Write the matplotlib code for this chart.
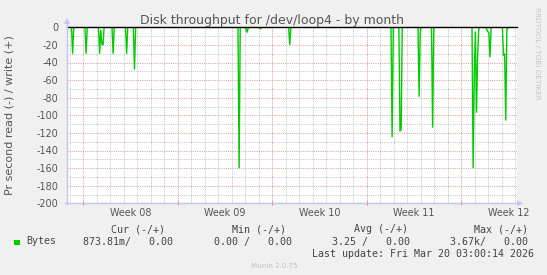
import matplotlib
matplotlib.use("Agg")
import matplotlib.pyplot as plt
import matplotlib.dates as mdates
import matplotlib.transforms as mtransforms
from matplotlib.patches import Polygon, Rectangle
from matplotlib.lines import Line2D
import numpy as np
import pandas as pd

plt.rcParams['axes.unicode_minus'] = False
plt.rcParams['font.family'] = ['DejaVu Sans']

W, H = 547, 275

# ---------------- data ----------------
title = "Disk throughput for /dev/loop4 - by month"
ylabel = "Pr second read (-) / write (+)"
end_time = pd.Timestamp("2026-03-20 03:00")
span_hours = 800
step_hours = 2

# read (-) series: non-zero 2-hour averages (all other samples are 0)
read_times = [
    "2026-02-15 05:00", "2026-02-16 05:00", "2026-02-17 05:00", "2026-02-17 07:00",
    "2026-02-17 09:00", "2026-02-17 11:00", "2026-02-18 05:00", "2026-02-19 05:00",
    "2026-02-19 19:00", "2026-02-27 13:00", "2026-02-28 01:00", "2026-02-28 03:00",
    "2026-02-28 05:00", "2026-03-01 03:00", "2026-03-03 07:00", "2026-03-10 21:00",
    "2026-03-11 11:00", "2026-03-11 13:00", "2026-03-12 21:00", "2026-03-12 23:00",
    "2026-03-13 21:00", "2026-03-16 21:00", "2026-03-16 23:00", "2026-03-17 01:00",
    "2026-03-17 03:00", "2026-03-17 05:00", "2026-03-17 07:00", "2026-03-17 21:00",
    "2026-03-17 23:00", "2026-03-18 01:00", "2026-03-18 03:00", "2026-03-18 05:00",
    "2026-03-19 03:00", "2026-03-19 05:00", "2026-03-19 07:00", "2026-03-19 09:00",
    "2026-03-19 11:00",
]
read_values = [
    -30, -30, -30, -3,
    -19, -20, -30, -30,
    -48, -160, -1.5, -6,
    -1, -2, -20, -125,
    -118, -116, -79, -3,
    -114, -160, -55, -5,
    -97, -33, -2, -2,
    -5, -6, -34, -1,
    -32, -30, -106, -2,
    -1,
]
write_value = 0.0

yticks = [0, -20, -40, -60, -80, -100, -120, -140, -160, -180, -200]
yminor = [-10, -30, -50, -70, -90, -110, -130, -150, -170, -190]
week_starts = ["2026-02-16", "2026-02-23", "2026-03-02", "2026-03-09", "2026-03-16"]
week_labels = ["Week 08", "Week 09", "Week 10", "Week 11", "Week 12"]

legend_name = "Bytes"
legend_headers = ["Cur (-/+)", "Min (-/+)", "Avg (-/+)", "Max (-/+)"]
legend_values = ["873.81m/   0.00", "0.00 /   0.00", "3.25 /   0.00", "3.67k/   0.00"]
last_update = "Last update: Fri Mar 20 03:00:14 2026"
munin_version = "Munin 2.0.75"
watermark = "RRDTOOL / TOBI OETIKER"

# ---------------- series ----------------
start_time = end_time - pd.Timedelta(hours=span_hours)
times = pd.date_range(start_time, end_time, freq=f"{step_hours}h")
series = pd.Series(0.0, index=times)
for t, v in zip(read_times, read_values):
    series[pd.Timestamp(t)] = v

# ---------------- figure ----------------
fig = plt.figure(figsize=(W / 100, H / 100), dpi=100)
fig.patch.set_facecolor("#f0f0f0")
pxT = mtransforms.Affine2D().scale(1 / W, -1 / H).translate(0, 1) + fig.transFigure

L, R, T, B = 67, 517, 27.3, 203.3
ax = fig.add_axes([L / W, 1 - B / H, (R - L) / W, (B - T) / H])
ax.set_facecolor("white")
ax.set_xlim(mdates.date2num(start_time), mdates.date2num(end_time))
ax.set_ylim(-200, 0)
for s in ax.spines.values():
    s.set_visible(False)

txt_col = "#555555"
minor_col = "#c4c4c4"
major_col = "#e09c9c"
glw = 0.72
gls = (0, (1, 1.2))

# grid lines
days = pd.date_range(start_time.normalize() + pd.Timedelta(days=1), end_time, freq="D")
for d in days:
    if d.weekday() != 0:
        ax.axvline(mdates.date2num(d), color=minor_col, lw=glw, ls=gls, zorder=1)
for yv in yminor:
    ax.axhline(yv, color=minor_col, lw=glw, ls=gls, zorder=1)
for yv in yticks[1:-1]:
    ax.axhline(yv, color=major_col, lw=glw, ls=gls, zorder=1.5)
for ws in week_starts:
    ax.axvline(mdates.date2num(pd.Timestamp(ws)), color=major_col, lw=glw,
               ls=gls, zorder=1.5)

# data
ax.plot(series.index, series.values, color="#00cc00", lw=1.0, zorder=3,
        solid_joinstyle="miter")
ax.axhline(write_value, color="black", lw=1.0, zorder=4, clip_on=False)

# ticks
ax.set_yticks(yticks)
ax.set_yticklabels([str(v) for v in yticks])
ax.tick_params(axis="y", length=0, pad=6.2, labelsize=6.9, labelcolor=txt_col)
ax.set_xticks([mdates.date2num(pd.Timestamp(ws)) for ws in week_starts])
ax.set_xticklabels([])
ax.tick_params(axis="x", length=3, direction="inout", color="#e08080", width=0.8)

blend = mtransforms.blended_transform_factory(ax.transData, pxT)
for ws, lab in zip(week_starts, week_labels):
    xc = mdates.date2num(pd.Timestamp(ws) + pd.Timedelta(hours=84))
    fig.text(xc, 213.5, lab, transform=blend, ha="center", va="center",
             fontsize=6.9, color=txt_col)

# axis lines with arrows
axis_col = "#c4c4f2"
fig.add_artist(Line2D([L, L], [B + 1, 22], transform=pxT, color=axis_col, lw=1))
fig.add_artist(Line2D([L - 2, R + 1], [B, B], transform=pxT, color=axis_col, lw=1))
fig.add_artist(Polygon([[L - 3, 24], [L + 3, 24], [L, 18]], closed=True,
                       transform=pxT, color=axis_col, lw=0))
fig.add_artist(Polygon([[R, B - 3], [R, B + 3], [R + 6, B]], closed=True,
                       transform=pxT, color=axis_col, lw=0))

# texts
fig.text(272.5, 24, title, transform=pxT, ha="center", va="baseline",
         fontsize=9, color=txt_col)
fig.text(10, 115, ylabel, transform=pxT, ha="center", va="center",
         rotation=90, fontsize=8, color=txt_col)
fig.text(537.5, 53, watermark, transform=pxT, ha="center", va="center",
         rotation=270, fontsize=5.2, color="#c4c4c4")

mono = dict(family="DejaVu Sans Mono", fontsize=7.2, color="#444444")
header_x = [111, 232, 353.5, 474]
value_x = [83, 213.5, 332, 450]
for x, h in zip(header_x, legend_headers):
    fig.text(x, 229, h, transform=pxT, ha="left", va="center", **mono)
fig.add_artist(Rectangle((14, 239.5), 5.5, 5.5, transform=pxT, color="#00cc00", lw=0))
fig.text(26, 241.5, legend_name, transform=pxT, ha="left", va="center", **mono)
for x, v in zip(value_x, legend_values):
    fig.text(x, 241.5, v, transform=pxT, ha="left", va="center", **mono)
fig.text(534.5, 254, last_update, transform=pxT, ha="right", va="center", **mono)
fig.text(274, 266.5, munin_version, transform=pxT, ha="center", va="center",
         fontsize=5.1, color="#c0c0c0")

fig.savefig("out.png", dpi=100, facecolor=fig.get_facecolor())
